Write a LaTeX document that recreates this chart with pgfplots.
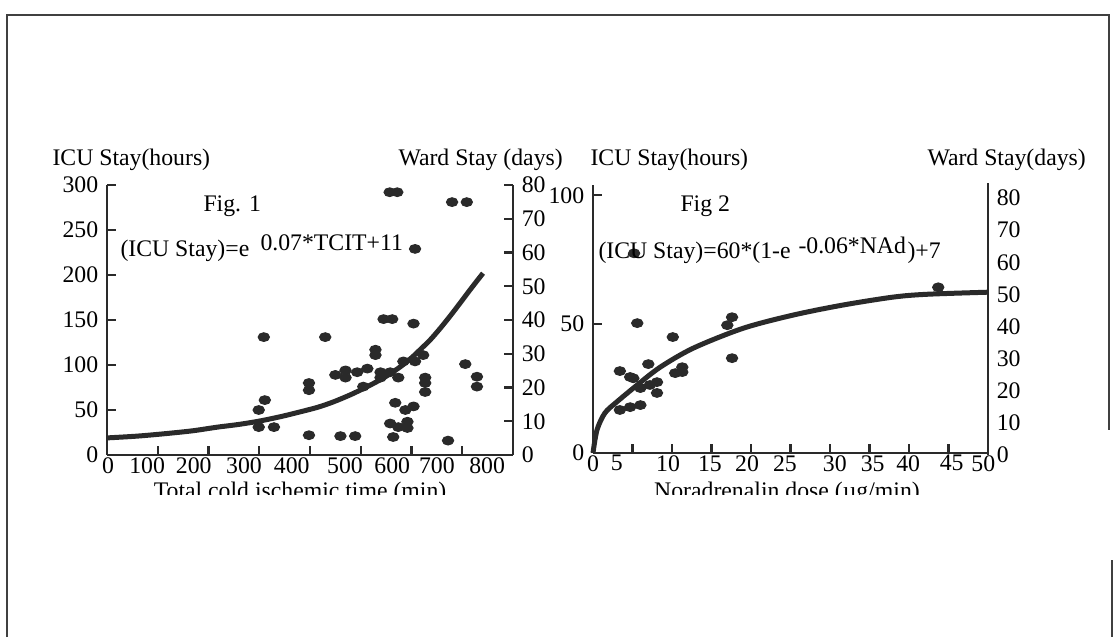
\documentclass[border=0pt]{standalone}
\usepackage{fontspec}
\setmainfont{Liberation Serif}
\usepackage{pgfplots}
\pgfplotsset{compat=1.18}

\definecolor{ink}{HTML}{2A2A2A}
\newcommand{\tf}{\fontsize{9.5}{11}\selectfont}

\pgfplotsset{
  scan/.style={
    scale only axis, anchor=south west,
    axis line style={-, line width=0.9pt, ink},
    tick style={line width=0.9pt, ink},
    major tick length=3.5pt,
    tick align=inside,
    ticklabel style={font=\tf, text=black},
    xticklabel style={yshift=2.6pt},
    /pgf/number format/assume math mode=true,
    clip=false,
  },
  dots/.style={only marks, mark=*, mark size=1.75pt, mark options={ink, xscale=1.3}},
}

\begin{document}
\begin{tikzpicture}
\useasboundingbox (0,0) rectangle (446pt,254.8pt);

% ---------- Fig. 1 ----------
\begin{axis}[scan,
  at={(42.8pt,72.8pt)}, width=162.4pt, height=108pt,
  xmin=0, xmax=800, ymin=0, ymax=300,
  axis x line*=bottom, axis y line*=left,
  xtick={100,200,...,700}, xticklabels={},
  extra x ticks={2,79,171,270,364,469,562,650,749},
  extra x tick labels={0,100,200,300,400,500,600,700,800},
  extra x tick style={major tick length=0pt},
  ytick={0,50,...,300},
]
\addplot[ink, line width=2pt, smooth] coordinates {
 (0,19)(60,21)(120,24)(170,27)(218,31)(260,34)(303,38)(345,43)(381,48)
 (415,53)(446,59)(480,67)(513,76)(546,86)(578,98)(600,108)(617,117)
 (637,128)(657,141)(677,155)(696,169)(712,181)(727,192)(741,202)
};
\addplot[dots] coordinates {
 (309,131)(311,61)(299,50)(299,31)(329,31)(398,80)(398,72)(398,22)
 (430,131)(460,21)(489,21)(450,89)(470,94)(470,86)(493,92)(513,96)
 (505,76)(529,111)(529,117)(539,92)(539,86)(558,92)(574,86)(545,151)
 (562,151)(604,146)(584,104)(607,104)(623,111)(627,86)(627,80)(627,70)
 (568,58)(588,50)(604,54)(558,35)(574,31)(592,37)(592,30)(564,20)
 (672,16)(706,101)(729,87)(729,76)(557,292)(572,292)(680,281)(709,281)
 (607,229)
};
\end{axis}
\begin{axis}[scan,
  at={(42.8pt,72.8pt)}, width=162.4pt, height=108pt,
  xmin=0, xmax=800, ymin=0, ymax=80,
  axis x line=none, axis y line*=right,
  ytick={0,10,...,80},
]
\end{axis}

% ---------- Fig. 2 ----------
\begin{axis}[scan,
  at={(237.2pt,73.6pt)}, width=158pt, height=107.2pt,
  xmin=0, xmax=50, ymin=0, ymax=104,
  axis x line*=bottom, axis y line*=left,
  xtick={5,10,...,45}, xticklabels={},
  extra x ticks={0,3,9.5,14.8,19.5,24.3,30.6,35.4,39.9,45.4,49.4},
  extra x tick labels={0,5,10,15,20,25,30,35,40,45,50},
  extra x tick style={major tick length=0pt},
  ytick={0,50,100},
]
\addplot[ink, line width=2pt, smooth] coordinates {
 (0,0)(0.5,8.9)(1.5,15.5)(3,19.8)(5.6,26.4)(8.5,33.3)(12.7,40.7)
 (19,48.4)(25.3,53.5)(31.6,57.4)(38,60.5)(42.3,61.6)(50,62.4)
};
\addplot[dots] coordinates {
 (5.6,50.4)(10.1,45)(17.6,52.7)(17,49.6)(17.6,36.8)(43.7,64.3)(3.4,31.8)
 (4.7,29.5)(7,34.5)(6,25.2)(7.2,26.4)(8.1,27.5)(8.1,23.3)(10.4,31)
 (11.3,33.3)(11.3,31.4)(3.4,16.7)(4.7,17.8)(6,18.6)(5.1,29)(5.2,77.5)
};
\end{axis}
\begin{axis}[scan,
  at={(237.2pt,72.8pt)}, width=158pt, height=108.8pt,
  xmin=0, xmax=50, ymin=0, ymax=84.7,
  axis x line=none, axis y line*=right,
  ytick={0,10,...,80}, major tick length=0pt,
]
\end{axis}

% ---------- texts and frame, in pixel units ----------
\begin{scope}[x=0.4pt, y=-0.4pt, shift={(0pt,254.8pt)}]
\draw[line width=0.5pt, black!75] (7,637) -- (7,15) -- (1109,15) -- (1109,430);
\draw[line width=0.5pt, black!75] (1112,560) -- (1112,637);

\node[anchor=base west, inner sep=0, font=\tf] at (52,166) {ICU Stay(hours)};
\node[anchor=base west, inner sep=0, font=\tf] at (398,166) {Ward Stay (days)};
\node[anchor=base west, inner sep=0, font=\tf] at (590,166) {ICU Stay(hours)};
\node[anchor=base west, inner sep=0, font=\tf] at (927,166) {Ward Stay(days)};

\node[anchor=base west, inner sep=0, font=\tf] at (203,212) {Fig. 1};
\node[anchor=base west, inner sep=0, font=\tf] at (120,257) {(ICU Stay)=e};
\node[anchor=base west, inner sep=0, font=\tf] at (260,251) {0.07*TCIT+11};

\node[anchor=base west, inner sep=0, font=\tf] at (680,212) {Fig 2};
\node[anchor=base west, inner sep=0, font=\tf] at (598,259) {(ICU Stay)=60*(1-e};
\node[anchor=base west, inner sep=0, font=\tf] at (798,254) {-0.06*NAd};
\node[anchor=base west, inner sep=0, font=\tf] at (907,259) {)+7};

\node[anchor=base, inner sep=0, font=\tf] at (300,499) {Total cold ischemic time (min)};
\node[anchor=base, inner sep=0, font=\tf] at (787,499) {Noradrenalin dose (µg/min)};
\fill[white] (120,495) rectangle (980,515);
\end{scope}
\end{tikzpicture}
\end{document}
